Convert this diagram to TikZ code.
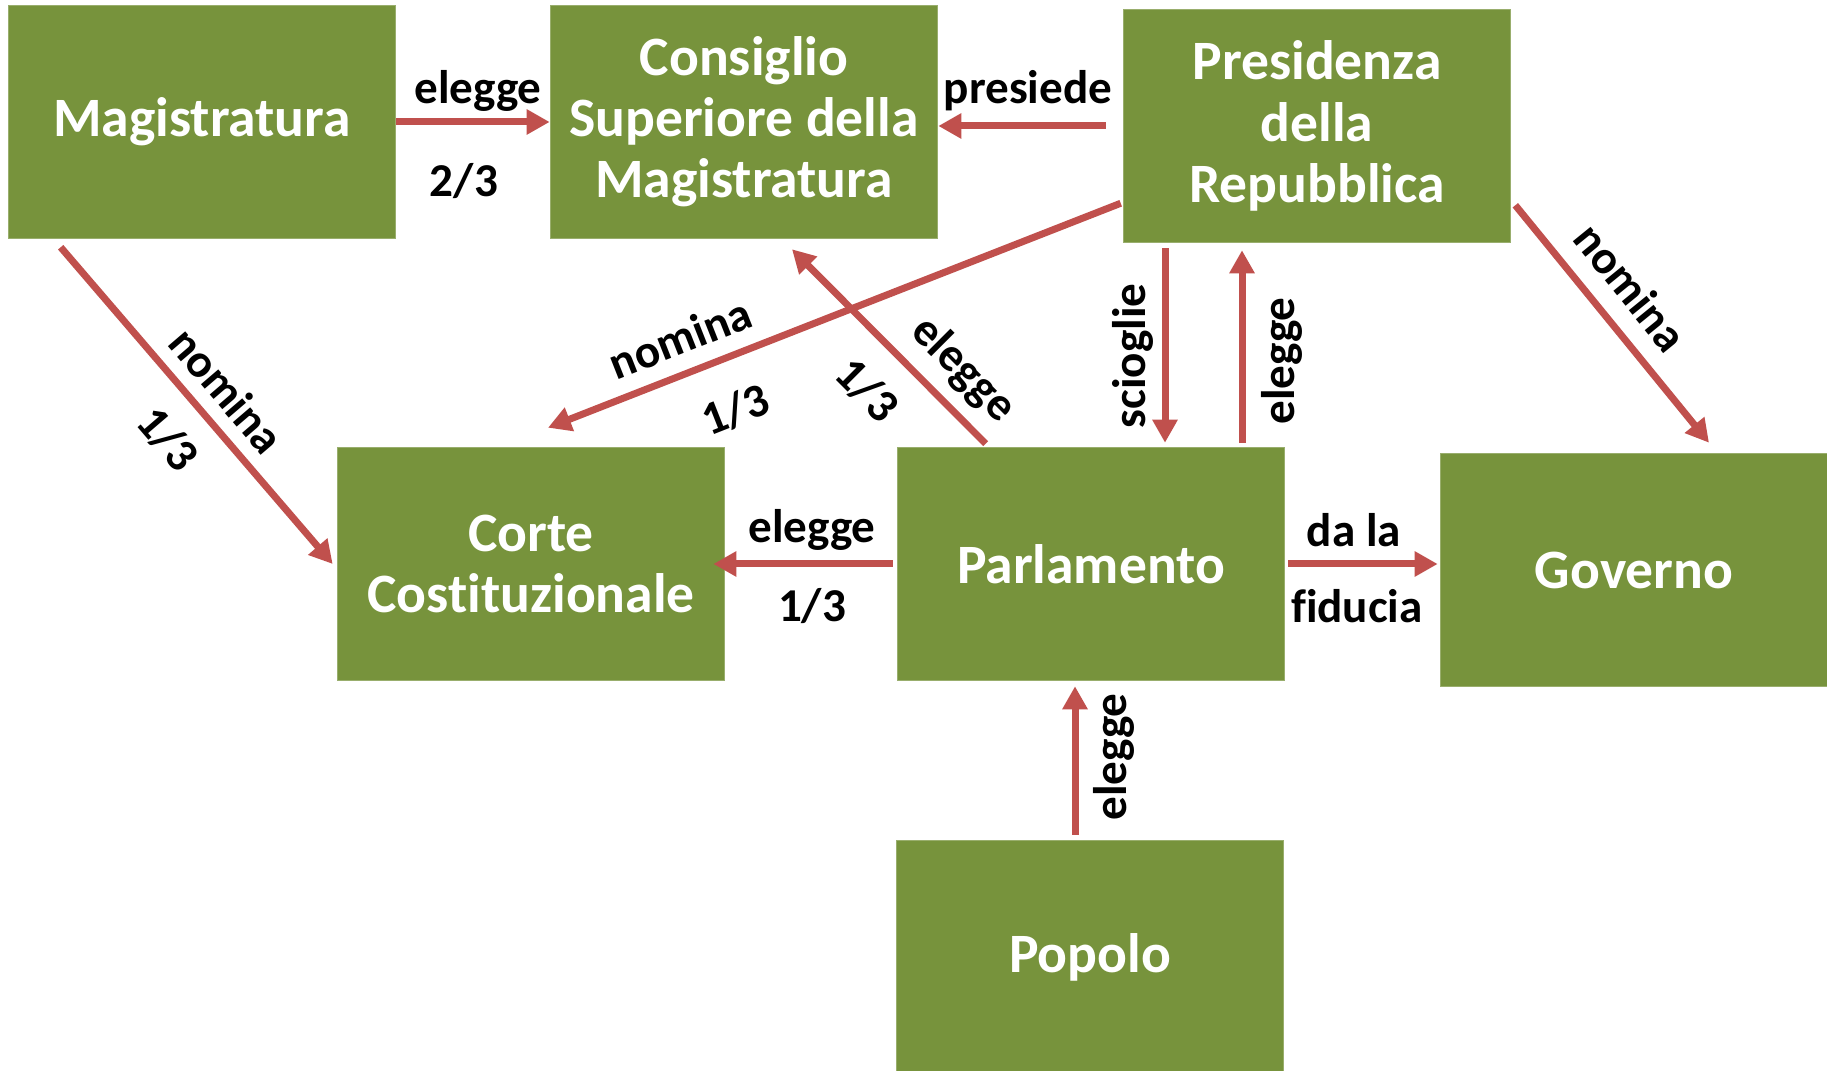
\documentclass[tikz,border=0pt]{standalone}
\usepackage{fontspec}
\setmainfont{Carlito}[Ligatures=NoCommon]
\usepackage{xcolor}
\usepackage{tikz}
\usetikzlibrary{arrows.meta, positioning, calc}

\definecolor{organgreen}{HTML}{77933C}
\definecolor{linkred}{HTML}{C0504D}

\begin{document}
\begin{tikzpicture}[x=0.01cm, y=0.01cm,
    organ/.style={fill=organgreen, draw=organgreen!75!white, line width=0.4pt,
        minimum width=3.87cm, minimum height=2.33cm, inner sep=0pt,
        text=white, align=center, font=\fontsize{15.8}{17.4}\selectfont\bfseries},
    link/.style={draw=linkred, line width=0.07cm,
        -{Triangle[length=0.23cm, width=0.24cm]}},
    lbl/.style={font=\fontsize{13.4}{15}\selectfont\bfseries, inner sep=1pt}]
    \useasboundingbox (0,0) rectangle (1827,-1071);

    % Organs
    \node[organ] (mag) at (202,-122) {Magistratura};
    \node[organ] (csm) at (744,-122) {Consiglio\\Superiore della\\Magistratura};
    \node[organ] (pres) at (1317,-126) {Presidenza\\della\\Repubblica};
    \node[organ] (corte) at (531,-564) {Corte\\Costituzionale};
    \node[organ] (parl) at (1091,-564) {Parlamento};
    \node[organ] (gov) at (1634,-570) {Governo};
    \node[organ] (popolo) at (1090,-957) {Popolo};

    % Top row
    \draw[link] (mag.east) -- (csm.west);
    \node[lbl] at (478,-91) {elegge};
    \node[lbl] at (464,-181) {2/3};
    \draw[link, shorten <=0.17cm] (pres.west) -- (pres.west -| csm.east);
    \node[lbl] at (1028,-91) {presiede};

    % Diagonals
    \draw[link] ($(mag.south west)+(53,-8)$) -- ($(corte.west)+(-4,0)$);
    \node[lbl, rotate=-49.4] at (227,-390) {nomina};
    \node[lbl, rotate=-49.4] at (168,-439) {1/3};
    \draw[link] ($(pres.south west)+(-2,40)$) -- ($(corte.north)+(17,19)$);
    \node[lbl, rotate=21.5] at (680,-338) {nomina};
    \node[lbl, rotate=21.5] at (735,-410) {1/3};
    \draw[link] ($(parl.north west)+(89,3)$) -- ($(csm.south)+(48,-10)$);
    \node[lbl, rotate=-45] at (963,-370) {elegge};
    \node[lbl, rotate=-45] at (867,-390) {1/3};
    \draw[link] ($(pres.south east)+(4,38)$) -- ($(gov.north)+(75,10)$);
    \node[lbl, rotate=-50.9] at (1631,-287) {nomina};

    % Presidenza <-> Parlamento
    \coordinate (sciogli) at ($(pres.south)+(-152,-5)$);
    \draw[link, shorten >=0.04cm] (sciogli) -- (sciogli |- parl.north);
    \node[lbl, rotate=90] at (1133,-356) {scioglie};
    \coordinate (votapres) at ($(parl.north)+(151,4)$);
    \draw[link, shorten >=0.07cm] (votapres) -- (votapres |- pres.south);
    \node[lbl, rotate=90] at (1282,-361) {elegge};

    % Middle row
    \draw[link, shorten <=0.04cm] (parl.west) -- ($(corte.east)+(-12,0)$);
    \node[lbl] at (812,-530) {elegge};
    \node[lbl] at (812,-606) {1/3};
    \draw[link, shorten <=0.03cm, shorten >=0.02cm] (parl.east) -- (parl.east -| gov.west);
    \node[lbl] at (1354,-530) {da la};
    \node[lbl] at (1357,-606) {fiducia};

    % Popolo
    \coordinate (voto) at ($(popolo.north)+(-15,5)$);
    \draw[link, shorten >=0.05cm] (voto) -- (voto |- parl.south);
    \node[lbl, rotate=90] at (1114,-757) {elegge};
\end{tikzpicture}
\end{document}
